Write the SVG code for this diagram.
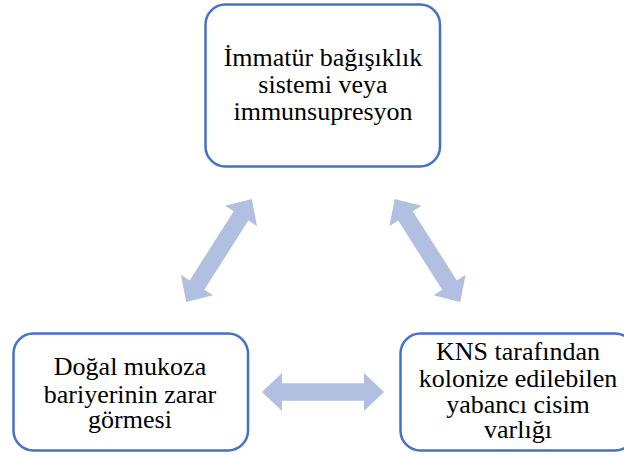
<svg xmlns="http://www.w3.org/2000/svg" width="624" height="456" viewBox="0 0 624 456">
<defs>
<style>
.box{fill:#ffffff;stroke:#4472C4;stroke-width:2.5}
.arr{fill:#B1BFE1;stroke:none}
.t{font-family:"Liberation Serif",serif;font-size:26px;text-anchor:middle;fill:#000000}
</style>
<polygon id="dbl" class="arr" points="-61,0 -41,-19 -41,-8.7 41,-8.7 41,-19 61,0 41,19 41,8.7 -41,8.7 -41,19"/>
</defs>
<rect width="624" height="456" fill="#ffffff"/>
<g id="connectors">
<use href="#dbl" transform="translate(219,250.5) rotate(-57.5)"/>
<use href="#dbl" transform="translate(427.5,250.5) rotate(57.5)"/>
<use href="#dbl" transform="translate(323,392)"/>
</g>
<g id="node-top">
<rect class="box" x="205.5" y="4.5" width="234.5" height="162" rx="20" ry="20"/>
<text class="t" x="323" y="65.5">İmmatür bağışıklık</text>
<text class="t" x="323" y="93">sistemi veya</text>
<text class="t" x="323" y="120">immunsupresyon</text>
</g>
<g id="node-left">
<rect class="box" x="13.5" y="333.5" width="234.5" height="117" rx="20" ry="20"/>
<text class="t" x="130" y="375">Doğal mukoza</text>
<text class="t" x="130" y="402.5">bariyerinin zarar</text>
<text class="t" x="130" y="428">görmesi</text>
</g>
<g id="node-right">
<rect class="box" x="400.5" y="333.5" width="234.5" height="117" rx="20" ry="20"/>
<text class="t" x="518" y="360">KNS tarafından</text>
<text class="t" x="518" y="386.5">kolonize edilebilen</text>
<text class="t" x="518" y="412.5">yabancı cisim</text>
<text class="t" x="518" y="438">varlığı</text>
</g>
</svg>
